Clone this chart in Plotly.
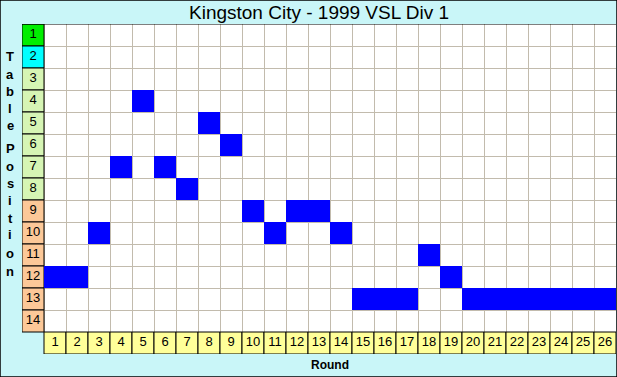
import plotly.graph_objects as go

TITLE = "Kingston City - 1999 VSL Div 1"
rounds = list(range(1, 27))
positions = [12, 12, 10, 7, 4, 7, 8, 5, 6, 9, 10, 9, 9, 10, 13, 13, 13, 11, 12, 13, 13, 13, 13, 13, 13, 13]
table_rows = list(range(1, 15))
row_colors = ["#00ee00", "#00ffff"] + ["#d6f5b4"] * 6 + ["#fcc898"] * 6
round_color = "#ffff99"
y_label = "Table Position"

W, H = 617, 377
BG = "#c9f6f8"
GRID = "#c2bbad"

n_r = len(rounds)
n_p = len(table_rows)

z = [[None] * n_r for _ in range(n_p)]
for r, p in zip(rounds, positions):
    z[p - 1][r - 1] = 1

fig = go.Figure()

fig.add_trace(go.Heatmap(
    x=rounds, y=table_rows, z=z,
    colorscale=[[0, "#0000ff"], [1, "#0000ff"]],
    showscale=False, hoverinfo="skip", xgap=0, ygap=0,
))

fig.add_trace(go.Scatter(
    x=[0] * n_p, y=table_rows, mode="text",
    text=[str(p) for p in table_rows],
    textfont=dict(family="Liberation Sans, Arial", size=13, color="black"),
    hoverinfo="skip", showlegend=False,
))
fig.add_trace(go.Scatter(
    x=rounds, y=[n_p + 1] * n_r, mode="text",
    text=[str(r) for r in rounds],
    textfont=dict(family="Liberation Sans, Arial", size=13, color="black"),
    hoverinfo="skip", showlegend=False,
))

shapes = []
shapes.append(dict(type="rect", xref="x", yref="y", x0=0.5, x1=n_r + 0.5, y0=0.5, y1=n_p + 0.5,
                   fillcolor="white", line=dict(width=0), layer="below"))
for p, c in zip(table_rows, row_colors):
    shapes.append(dict(type="rect", xref="x", yref="y", x0=-0.5, x1=0.5, y0=p - 0.5, y1=p + 0.5,
                       fillcolor=c, line=dict(color="black", width=1), layer="between"))
for r in rounds:
    shapes.append(dict(type="rect", xref="x", yref="y", x0=r - 0.5, x1=r + 0.5, y0=n_p + 0.5, y1=n_p + 1.5,
                       fillcolor=round_color, line=dict(color="black", width=1), layer="between"))
shapes.append(dict(type="line", xref="x", yref="y", x0=-0.5, x1=n_r + 0.5, y0=0.5, y1=0.5,
                   line=dict(color="black", width=1), layer="above"))
shapes.append(dict(type="rect", xref="paper", yref="paper", x0=0, x1=1, y0=0, y1=1,
                   line=dict(color="black", width=1.5), fillcolor="rgba(0,0,0,0)", layer="above"))

annotations = [
    dict(text=TITLE, xref="paper", yref="paper", x=319 / W, y=1 - 12 / H,
         showarrow=False, font=dict(family="Liberation Sans, Arial", size=19, color="black"),
         xanchor="center", yanchor="middle"),
    dict(text="<b>Round</b>", xref="paper", yref="paper", x=330 / W, y=1 - 365 / H,
         showarrow=False, font=dict(family="Liberation Sans, Arial", size=12, color="black"),
         xanchor="center", yanchor="middle"),
]
# vertical stacked letters of the y label
letter_y = [57, 74, 91, 108, 125, None, 148, 166, 183, 200, 218, 235, 253, 271]
for ch, yy in zip(y_label, letter_y):
    if ch == " " or yy is None:
        continue
    annotations.append(dict(text="<b>%s</b>" % ch, xref="paper", yref="paper",
                            x=10.5 / W, y=1 - yy / H, showarrow=False,
                            font=dict(family="Liberation Sans, Arial", size=13, color="black"),
                            xanchor="center", yanchor="middle"))

fig.update_layout(
    width=W, height=H, autosize=False,
    margin=dict(l=0, r=0, t=0, b=0),
    paper_bgcolor=BG, plot_bgcolor=BG,
    showlegend=False,
    shapes=shapes, annotations=annotations,
    xaxis=dict(domain=[22 / W, 616 / W], range=[-0.5, n_r + 0.5],
               tickvals=[i + 0.5 for i in range(0, n_r)], showticklabels=False,
               showgrid=True, gridcolor=GRID, gridwidth=1, zeroline=False, showline=False,
               fixedrange=True),
    yaxis=dict(domain=[(H - 354) / H, (H - 24) / H], range=[n_p + 1.5, 0.5],
               tickvals=[i + 0.5 for i in range(1, n_p)], showticklabels=False,
               showgrid=True, gridcolor=GRID, gridwidth=1, zeroline=False, showline=False,
               fixedrange=True),
)

fig.write_html(
    "out.html",
    config={"displayModeBar": False, "staticPlot": True},
    post_script="document.body.style.margin='0';document.body.style.padding='0';document.body.style.overflow='hidden';",
)
